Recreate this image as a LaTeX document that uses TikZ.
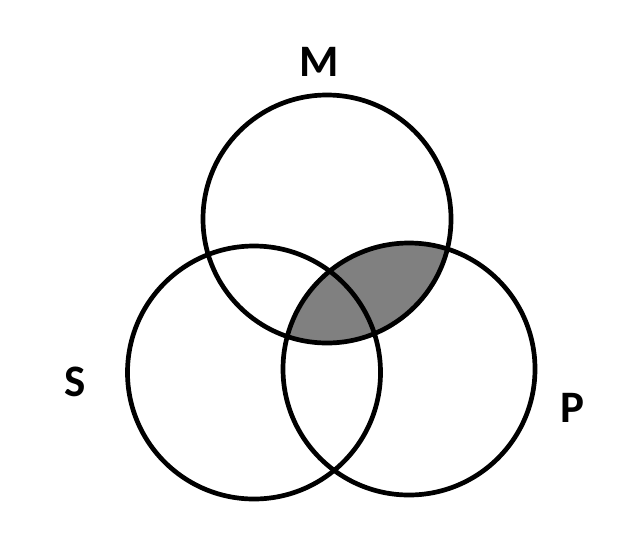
\documentclass[tikz,border=0pt]{standalone}
\usepackage{fontspec}
\setmainfont{Carlito}
\definecolor{venngray}{RGB}{128,128,128}
\tikzset{
  ring/.style={draw=black, line width=4.7pt},
  lbl/.style={inner sep=0pt, font=\fontsize{45}{45}\selectfont\bfseries}
}
\begin{document}
\begin{tikzpicture}[x=1pt,y=-1pt]
\useasboundingbox (0,0) rectangle (636,557);
\coordinate (cM) at (327,219);
\coordinate (cS) at (254,372.5);
\coordinate (cP) at (409,369);
\begin{scope}
  \clip (cM) circle[radius=124];
  \fill[venngray] (cP) circle[radius=126];
\end{scope}
\draw[ring] (cM) circle[radius=124];
\draw[ring] (cS) circle[radius=126.5];
\draw[ring] (cP) circle[radius=126];
\node[lbl] (M) at (319,61.5) {M};
\node[lbl] (S) at (75.5,381.5) {S};
\node[lbl] (P) at (572.5,407.5) {P};
\end{tikzpicture}
\end{document}
